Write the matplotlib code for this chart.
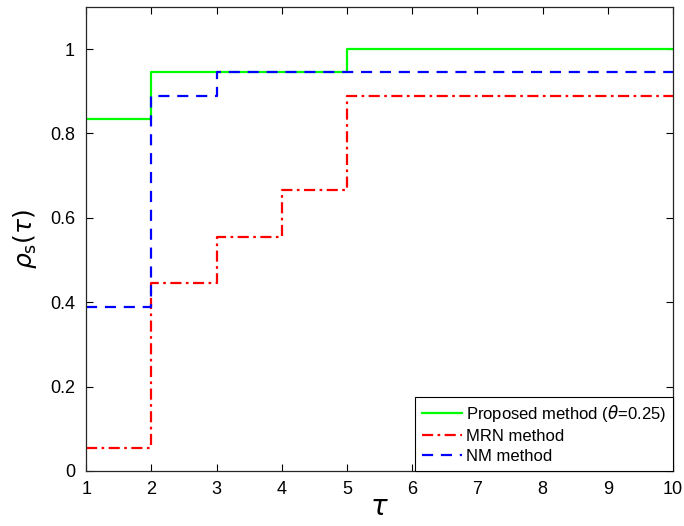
import matplotlib
matplotlib.use('Agg')
import matplotlib.pyplot as plt

plt.rcParams['font.family'] = ['Liberation Sans', 'DejaVu Sans']
plt.rcParams['mathtext.fontset'] = 'dejavusans'

# performance profile data (step functions)
tau_prop = [1, 2, 5, 10]
rho_prop = [0.8333, 0.9444, 1.0, 1.0]

tau_mrn = [1, 2, 3, 4, 5, 10]
rho_mrn = [0.0556, 0.4444, 0.5556, 0.6667, 0.8889, 0.8889]

tau_nm = [1, 2, 3, 10]
rho_nm = [0.3889, 0.8889, 0.9444, 0.9444]

fig = plt.figure(figsize=(6.84, 5.26), dpi=100)
ax = fig.add_axes([0.126, 0.1046, 0.858, 0.8824])

ax.step(tau_prop, rho_prop, where='post', color=(0, 1, 0), lw=1.6,
        label=r'Proposed method ($\theta$=0.25)')
ax.step(tau_mrn, rho_mrn, where='post', color=(1, 0, 0), lw=1.6,
        linestyle=(0, (5, 2, 1.2, 2)), label='MRN method')
ax.step(tau_nm, rho_nm, where='post', color=(0, 0, 1), lw=1.6,
        linestyle=(0, (5, 3.5)), label='NM method')

ax.set_xlim(1, 10)
ax.set_ylim(0, 1.1)
ax.set_xticks(range(1, 11))
ax.set_yticks([0, 0.2, 0.4, 0.6, 0.8, 1])
ax.set_yticklabels(['0', '0.2', '0.4', '0.6', '0.8', '1'])
ax.tick_params(direction='in', top=True, right=True, labelsize=13, length=5,
               width=0.8)
ax.tick_params(axis='x', pad=7)
ax.tick_params(axis='y', pad=8)
for s in ax.spines.values():
    s.set_linewidth(0.9)
    s.set_color('#262626')

ax.set_xlabel(r'$\tau$', fontsize=20, labelpad=-2)
ax.set_ylabel(r'$\rho_{\mathrm{s}}(\tau)$', fontsize=18, labelpad=8)

leg = ax.legend(loc='lower right', fontsize=12, fancybox=False, framealpha=1,
                edgecolor='black', borderaxespad=0, handlelength=2.4,
                borderpad=0.4, labelspacing=0.3, handletextpad=0.25)
leg.get_frame().set_linewidth(0.8)

fig.savefig('out.png', dpi=100)
